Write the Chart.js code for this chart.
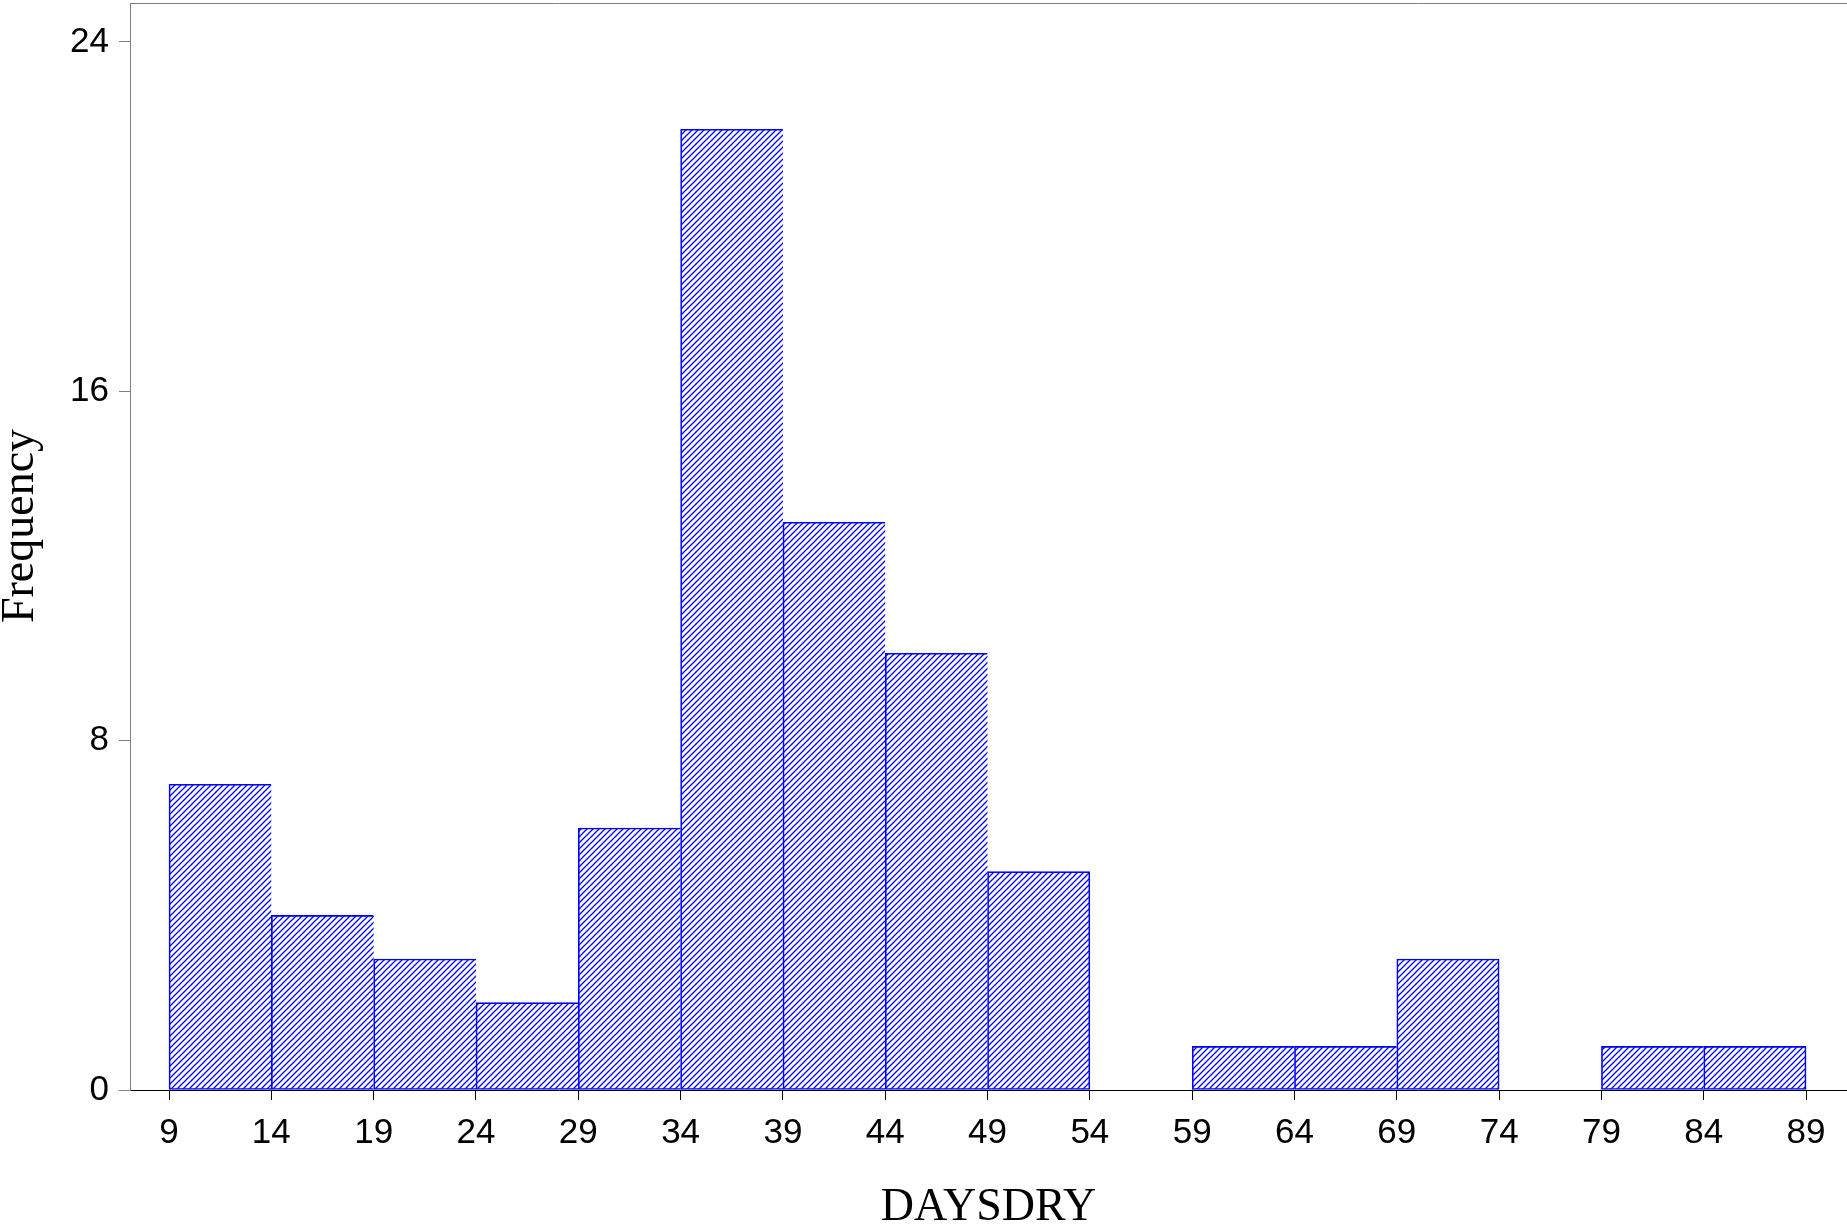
<!DOCTYPE html>
<html>
<head>
<meta charset="utf-8">
<title>DAYSDRY histogram</title>
<script src="https://cdn.jsdelivr.net/npm/chart.js@4/dist/chart.umd.min.js"></script>
<style>
  html, body { margin: 0; padding: 0; background: #ffffff; }
  #wrap { width: 1847px; height: 1225px; }
</style>
</head>
<body>
<div id="wrap"><canvas id="hist" width="1847" height="1225"></canvas></div>
<script>
// Histogram bins of DAYSDRY (width 5), lower edges and counts
const binStarts = [9, 14, 19, 24, 29, 34, 39, 44, 49, 54, 59, 64, 69, 74, 79, 84];
const binWidth = 5;
const counts = [7, 4, 3, 2, 6, 22, 13, 10, 5, 0, 1, 1, 3, 0, 1, 1];

// Axis tick labels
const xTicks = [9, 14, 19, 24, 29, 34, 39, 44, 49, 54, 59, 64, 69, 74, 79, 84, 89];
const yTicks = [0, 8, 16, 24];

const xTitle = 'DAYSDRY';
const yTitle = 'Frequency';

const BLUE = '#0000ff';
const GRAY = '#808080';

// Diagonal hatch fill for the bars
function makeHatch() {
  const size = 6;
  const c = document.createElement('canvas');
  c.width = size; c.height = size;
  const g = c.getContext('2d');
  g.strokeStyle = BLUE;
  g.lineWidth = 1.3;
  g.beginPath();
  g.moveTo(-1, size + 1); g.lineTo(size + 1, -1);
  g.moveTo(-1 - size, size + 1); g.lineTo(1, -1);
  g.moveTo(size - 1, size + 1); g.lineTo(2 * size + 1, -1);
  g.stroke();
  return g.createPattern(c, 'repeat');
}

// Bars: one point per non-empty bin, placed at the bin centre
const barPoints = [];
binStarts.forEach((s, i) => {
  if (counts[i] > 0) barPoints.push({ x: s + binWidth / 2, y: counts[i], start: s });
});

// A bar shares its right edge with the next bin's left edge, so only draw
// the right border when the following bin is empty or this is the last bin
function borderFor(ctx) {
  const p = ctx.raw;
  if (!p) return 1;
  const idx = binStarts.indexOf(p.start);
  const nextFilled = idx + 1 < counts.length && counts[idx + 1] > 0;
  return { top: 1, left: 1, bottom: 1, right: nextFilled ? 0 : 1 };
}

// Gray frame lines on the top and right of the plot area, plus the rotated
// y-axis title
const framePlugin = {
  id: 'frame',
  afterDraw(chart) {
    const { ctx, chartArea: a } = chart;
    ctx.save();
    ctx.strokeStyle = GRAY;
    ctx.lineWidth = 1;
    ctx.beginPath();
    ctx.moveTo(a.left, a.top + 0.5);
    ctx.lineTo(a.right + 1, a.top + 0.5);
    ctx.moveTo(a.right + 0.5, a.top);
    ctx.lineTo(a.right + 0.5, a.bottom);
    ctx.stroke();

    ctx.translate(21, 526);
    ctx.rotate(-Math.PI / 2);
    ctx.fillStyle = '#000000';
    ctx.font = '46px "Liberation Serif", "Times New Roman", serif';
    ctx.textAlign = 'center';
    ctx.textBaseline = 'middle';
    ctx.fillText(yTitle, 0, 0);
    ctx.restore();
  }
};

const hatch = makeHatch();

new Chart(document.getElementById('hist'), {
  type: 'bar',
  data: {
    datasets: [{
      label: yTitle,
      data: barPoints,
      backgroundColor: hatch,
      borderColor: BLUE,
      borderWidth: borderFor,
      borderSkipped: false,
      barPercentage: 1,
      categoryPercentage: 1
    }]
  },
  options: {
    responsive: false,
    animation: false,
    devicePixelRatio: 1,
    layout: { padding: { top: 3, right: 0, bottom: 0, left: 0 } },
    plugins: {
      legend: { display: false },
      tooltip: { enabled: false }
    },
    scales: {
      x: {
        type: 'linear',
        min: 7.093,
        max: 91.0,
        offset: false,
        grid: {
          offset: false,
          drawOnChartArea: false,
          drawTicks: true,
          tickLength: 10,
          tickColor: '#000000',
          tickWidth: 1
        },
        border: { display: true, color: '#000000', width: 1 },
        ticks: {
          autoSkip: false,
          maxRotation: 0,
          padding: 12,
          color: '#000000',
          font: { family: '"Liberation Sans", Arial, sans-serif', size: 35 }
        },
        afterBuildTicks(scale) { scale.ticks = xTicks.map(v => ({ value: v })); },
        afterFit(scale) {
          scale.height = 135;
          scale.paddingLeft = 0;
          scale.paddingRight = 0;
        },
        title: {
          display: true,
          text: xTitle,
          color: '#000000',
          padding: 0,
          font: { family: '"Liberation Serif", "Times New Roman", serif', size: 46, lineHeight: 0.73 }
        }
      },
      y: {
        type: 'linear',
        min: 0,
        max: 24.89,
        grid: {
          drawOnChartArea: false,
          drawTicks: true,
          tickLength: 11,
          tickColor: GRAY,
          tickWidth: 1
        },
        border: { display: true, color: GRAY, width: 1 },
        ticks: {
          padding: 10,
          color: '#000000',
          font: { family: '"Liberation Sans", Arial, sans-serif', size: 35 }
        },
        afterBuildTicks(scale) { scale.ticks = yTicks.map(v => ({ value: v })); },
        afterFit(scale) {
          scale.width = 130;
          scale.paddingTop = 0;
          scale.paddingBottom = 0;
        }
      }
    }
  },
  plugins: [framePlugin]
});
</script>
</body>
</html>
